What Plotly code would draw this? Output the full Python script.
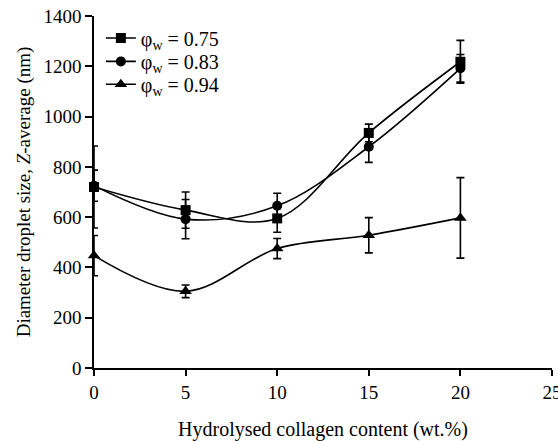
import plotly.graph_objects as go

x_vals = [0, 5, 10, 15, 20]
names = ["φ<sub>w</sub> = 0.75", "φ<sub>w</sub> = 0.83", "φ<sub>w</sub> = 0.94"]
y_075 = [720, 628, 595, 935, 1218]
e_075 = [163, 72, 55, 35, 85]
y_083 = [725, 592, 645, 880, 1192]
e_083 = [62, 78, 50, 62, 55]
y_094 = [447, 305, 475, 528, 597]
e_094 = [80, 25, 40, 70, 160]
symbols = ["square", "circle", "triangle-up"]
sizes = [10, 10, 11]
legend_ids = ["legend", "legend2", "legend3"]
legend_rows = [0.9375, 0.871, 0.806]

font_family = "Liberation Serif, Times New Roman, serif"

fig = go.Figure()
for name, ys, es, sym, sz, lg in zip(names, [y_075, y_083, y_094], [e_075, e_083, e_094], symbols, sizes, legend_ids):
    fig.add_trace(go.Scatter(
        x=x_vals, y=ys, name=name, mode="lines+markers",
        line=dict(color="black", width=1.6, shape="spline", smoothing=1.0),
        marker=dict(symbol=sym, size=sz, color="black"),
        error_y=dict(type="data", array=es, visible=True, color="black", thickness=1.6, width=4),
        cliponaxis=False, legend=lg,
    ))

legend_layout = {}
for lg, yr in zip(legend_ids, legend_rows):
    legend_layout[lg] = dict(x=0.015, y=yr, xanchor="left", yanchor="middle", bgcolor="rgba(0,0,0,0)",
                             font=dict(family=font_family, size=20), itemwidth=30)

fig.update_layout(
    width=558, height=441,
    margin=dict(l=94, r=6, t=16, b=73),
    plot_bgcolor="white", paper_bgcolor="white",
    font=dict(family=font_family, size=19, color="black"),
    showlegend=True,
    **legend_layout,
    xaxis=dict(range=[0, 25], dtick=5, tick0=0, showline=True, linecolor="black", linewidth=1.6,
               ticks="outside", ticklen=6, tickwidth=1.6, tickcolor="black", showgrid=False, zeroline=False,
               ticklabeloverflow="allow", automargin=False,
               title=dict(text="Hydrolysed collagen content (wt.%)", font=dict(size=20), standoff=20)),
    yaxis=dict(range=[0, 1400], dtick=200, tick0=0, showline=True, linecolor="black", linewidth=1.6,
               ticks="outside", ticklen=7, tickwidth=1.6, tickcolor="black", showgrid=False, zeroline=False,
               automargin=False,
               title=dict(text="Diameter droplet size, <i>Z</i>-average (nm)", font=dict(size=19), standoff=8)),
)
fig.write_html("out.html")
